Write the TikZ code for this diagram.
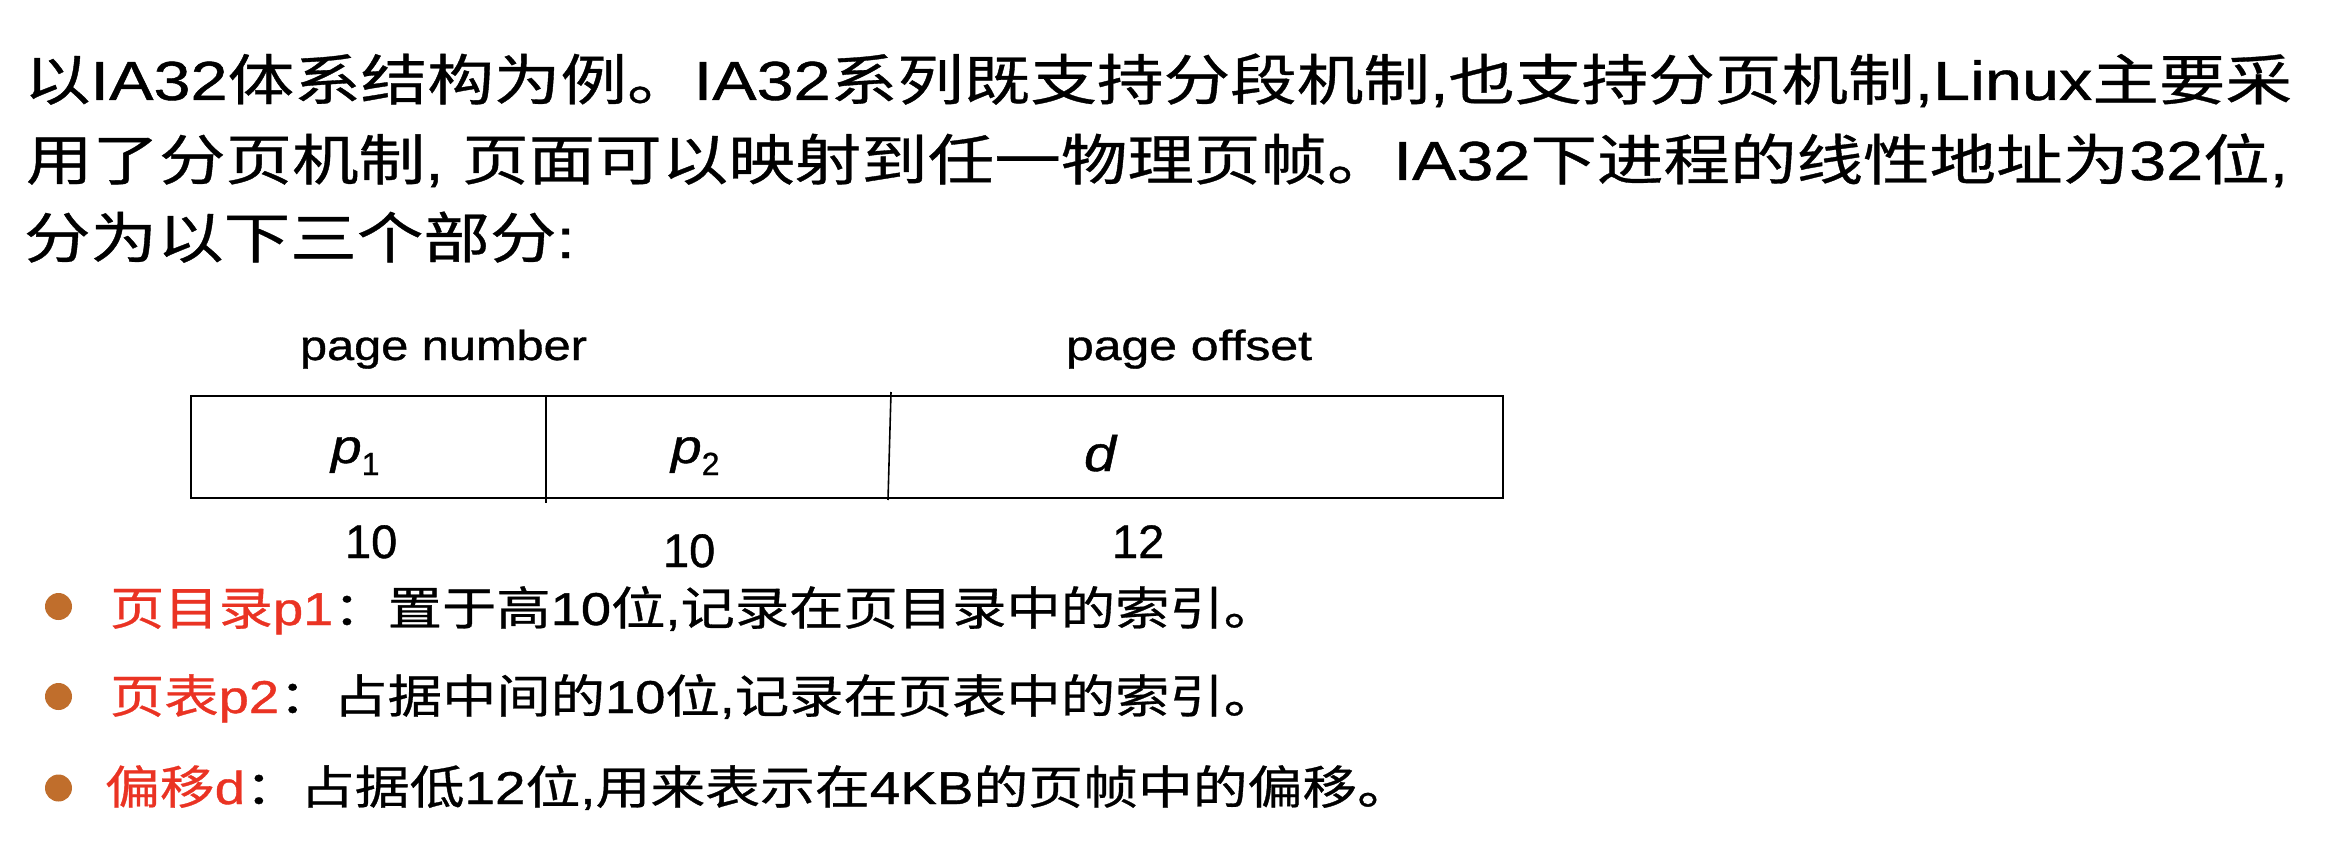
\documentclass[tikz,border=0pt]{standalone}
\usepackage{fontspec}
\usepackage{graphicx}
\setmainfont{Liberation Sans}[FakeBold=0.8]
\newfontfamily\cjk{Noto Sans CJK SC}[FakeBold=0.6]
\definecolor{redt}{RGB}{234,51,35}
\definecolor{bulc}{RGB}{192,110,44}
\newcommand{\fitw}[2]{\resizebox{#1pt}{\height}{#2}}
\newcommand{\subsc}[1]{\raisebox{-12pt}{\upshape\fontsize{32}{32}\selectfont #1}}
\newcommand{\wide}[1]{\scalebox{1.15}[1]{#1}}
\begin{document}
\begin{tikzpicture}[x=1pt,y=-1pt,
  txt/.style={anchor=base west, inner sep=0pt, outer sep=0pt},
  head/.style={txt, font=\fontsize{55}{66}\selectfont},
  item/.style={txt, font=\fontsize{46}{55}\selectfont},
  lab/.style={txt, font=\fontsize{42}{50}\selectfont},
  num/.style={txt, font=\fontsize{47}{55}\selectfont},
  var/.style={txt, font=\fontsize{48}{52}\selectfont\itshape},
  bul/.style={circle, fill=bulc, draw=none, minimum size=27pt, inner sep=0pt, outer sep=0pt},
  field/.style={draw=black, line width=2.5pt, inner sep=0pt, outer sep=0pt, anchor=north west},
  divl/.style={draw=black, line width=1.6pt}]
\useasboundingbox (0,0) rectangle (2330,856);
% heading
\node[head] (h1) at (24,100) {\fitw{2268}{{\cjk 以}IA32{\cjk 体系结构为例。}IA32{\cjk 系列既支持分段机制},{\cjk 也支持分页机制},Linux{\cjk 主要采}}};
\node[head] (h2) at (26,180) {\fitw{2262}{{\cjk 用了分页机制}, {\cjk 页面可以映射到任一物理页帧。}IA32{\cjk 下进程的线性地址为}32{\cjk 位},}};
\node[head] (h3) at (24,258) {\fitw{551}{{\cjk 分为以下三个部分}:}};
% labels above
\node[lab] (pn) at (300,360) {\fitw{287}{page number}};
\node[lab] (po) at (1066,360) {\fitw{246}{page offset}};
% address field
\node[field, minimum width=1312pt, minimum height=102pt] (addr) at (191,396) {};
\coordinate (d1t) at (546,396);
\coordinate (d1b) at (546,503);
\coordinate (d2t) at (891,392);
\coordinate (d2b) at (888,500);
\draw[divl] (d1t) -- (d1b);
\draw[divl] (d2t) -- (d2b);
\node[var] (p1) at (331,463) {\wide{p}\subsc{1}};
\node[var] (p2) at (671,463) {\wide{p}\subsc{2}};
\node[var, font=\fontsize{50}{54}\selectfont\itshape] (dd) at (1084,471) {\wide{d}};
% bit counts
\node[num] (n1) at (345,558) {10};
\node[num] (n2) at (663,567) {10};
\node[num] (n3) at (1112,558) {12};
% bullets
\node[bul] (b1) at (58.5,606.5) {};
\node[bul] (b2) at (58.5,696.5) {};
\node[bul] (b3) at (58.5,788) {};
\node[item] (t1) at (110,625) {\fitw{1168}{\textcolor{redt}{{\cjk 页目录}p1}{\cjk ：置于高}10{\cjk 位},{\cjk 记录在页目录中的索引。}}};
\node[item] (t2) at (110,713) {\fitw{1168}{\textcolor{redt}{{\cjk 页表}p2}{\cjk ：占据中间的}10{\cjk 位},{\cjk 记录在页表中的索引。}}};
\node[item] (t3) at (105,804) {\fitw{1307}{\textcolor{redt}{{\cjk 偏移}d}{\cjk ：占据低}12{\cjk 位},{\cjk 用来表示在}4KB{\cjk 的页帧中的偏移。}}};
\end{tikzpicture}
\end{document}
